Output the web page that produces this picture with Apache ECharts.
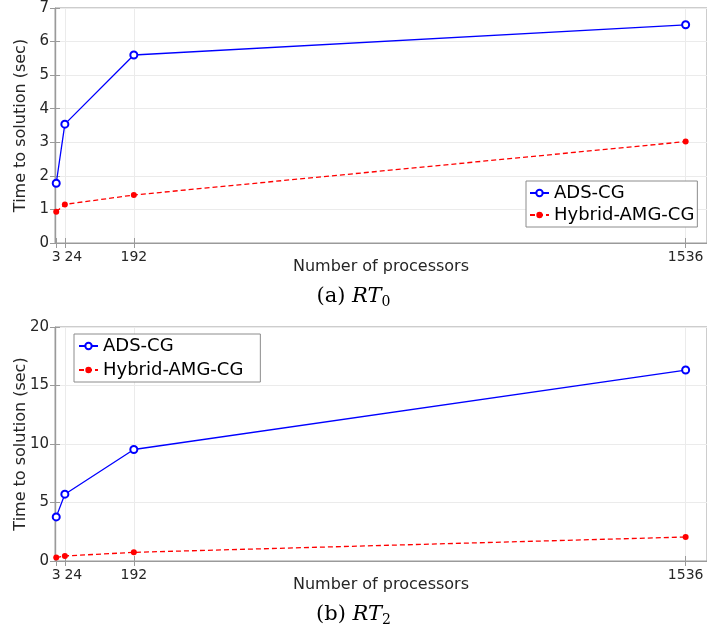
<!DOCTYPE html>
<html>
<head>
<meta charset="utf-8">
<script src="https://cdn.jsdelivr.net/npm/echarts@6/dist/echarts.min.js"></script>
<style>
  html, body { margin: 0; padding: 0; background: #fff; }
  #chart { width: 707px; height: 630px; }
</style>
</head>
<body>
<div id="chart"></div>
<script>
// number of processors (x ticks)
const procs = [3, 24, 192, 1536];
const xTickLabels = ['3', '24', '192', '1536'];

// (a) RT_0
const rt0Ads = [1.78, 3.54, 5.60, 6.50];
const rt0Hybrid = [0.93, 1.15, 1.43, 3.02];

// (b) RT_2
const rt2Ads = [3.77, 5.71, 9.53, 16.32];
const rt2Hybrid = [0.29, 0.43, 0.74, 2.05];

const seriesNames = ['ADS-CG', 'Hybrid-AMG-CG'];

const axisGray = '#9a9a9a';
const gridGray = '#ebebeb';
const textGray = '#262626';
const sans = 'DejaVu Sans';

function pairs(ys) {
    return procs.map(function (p, i) {
        return [p, ys[i]];
    });
}

function xLabel(value) {
    const idx = procs.indexOf(value);
    const txt = idx >= 0 ? xTickLabels[idx] : '';
    // the "24" label sits a bit right of its tick in the original
    if (idx === 1) return '{p|' + txt + '}';
    return txt;
}

function bottomX(gridIndex) {
    return {
        type: 'value',
        gridIndex: gridIndex,
        min: 0,
        max: 1588,
        name: 'Number of processors',
        nameLocation: 'middle',
        nameGap: 16,
        nameMoveOverlap: false,
        nameTextStyle: { fontFamily: sans, fontSize: 16, color: textGray },
        axisLine: { lineStyle: { color: axisGray } },
        axisTick: { inside: true, length: 5, customValues: procs, lineStyle: { color: axisGray } },
        axisLabel: {
            customValues: procs,
            formatter: xLabel,
            margin: 7,
            fontFamily: sans,
            fontSize: 14,
            color: textGray,
            rich: { p: { fontFamily: sans, fontSize: 14, color: textGray, padding: [0, 0, 0, 17] } }
        },
        splitLine: { show: true, lineStyle: { color: gridGray } }
    };
}

function topX(gridIndex) {
    return {
        type: 'value',
        gridIndex: gridIndex,
        position: 'top',
        min: 0,
        max: 1588,
        axisLine: { show: false },
        axisTick: { inside: true, length: 5, customValues: procs, lineStyle: { color: axisGray } },
        axisLabel: { show: false },
        splitLine: { show: false }
    };
}

function leftY(gridIndex, max, interval) {
    return {
        type: 'value',
        gridIndex: gridIndex,
        min: 0,
        max: max,
        interval: interval,
        name: 'Time to solution (sec)',
        nameLocation: 'middle',
        nameGap: 26,
        nameMoveOverlap: false,
        nameTextStyle: { fontFamily: sans, fontSize: 16, color: textGray },
        axisLine: { show: true, lineStyle: { color: axisGray } },
        axisTick: { show: true, inside: true, length: 5, lineStyle: { color: axisGray } },
        axisLabel: { margin: 6, fontFamily: sans, fontSize: 15, color: textGray },
        splitLine: { show: true, lineStyle: { color: gridGray } }
    };
}

function rightY(gridIndex, max, interval) {
    return {
        type: 'value',
        gridIndex: gridIndex,
        position: 'right',
        min: 0,
        max: max,
        interval: interval,
        axisLine: { show: false },
        axisTick: { show: true, inside: true, length: 5, lineStyle: { color: axisGray } },
        axisLabel: { show: false },
        splitLine: { show: false }
    };
}

function adsSeries(xi, yi, ys) {
    return {
        name: seriesNames[0],
        type: 'line',
        xAxisIndex: xi,
        yAxisIndex: yi,
        data: pairs(ys),
        symbol: 'emptyCircle',
        symbolSize: 7,
        lineStyle: { color: '#0000ff', width: 1.3 },
        itemStyle: { color: '#0000ff', borderWidth: 1.4 },
        animation: false
    };
}

function hybridSeries(xi, yi, ys) {
    return {
        name: seriesNames[1],
        type: 'line',
        xAxisIndex: xi,
        yAxisIndex: yi,
        data: pairs(ys),
        symbol: 'circle',
        symbolSize: 6,
        lineStyle: { color: '#ff0000', width: 1.3, type: [5, 3] },
        itemStyle: { color: '#ff0000' },
        animation: false
    };
}

function legendAt(left, top, padding, gap) {
    return {
        orient: 'vertical',
        left: left,
        top: top,
        data: seriesNames,
        itemWidth: 19,
        itemHeight: 8,
        itemGap: gap,
        padding: padding,
        borderColor: '#8c8c8c',
        borderWidth: 1,
        borderRadius: 0,
        backgroundColor: '#fff',
        textStyle: { fontFamily: sans, fontSize: 18, color: '#000', lineHeight: 20 }
    };
}

function caption(letter, sub, y) {
    return {
        type: 'text',
        left: 'center',
        top: y,
        style: {
            text: '{n|(' + letter + ') }{i|RT}{s|' + sub + '}',
            rich: {
                n: { fontFamily: 'DejaVu Serif', fontSize: 21, color: '#000', lineHeight: 26 },
                i: { fontFamily: 'DejaVu Serif', fontStyle: 'italic', fontSize: 21, color: '#000', lineHeight: 26 },
                s: { fontFamily: 'DejaVu Serif', fontSize: 14, color: '#000', lineHeight: 14, verticalAlign: 'bottom' }
            }
        }
    };
}

const chart = echarts.init(document.getElementById('chart'), null, { renderer: 'canvas' });

chart.setOption({
    animation: false,
    backgroundColor: '#fff',
    grid: [
        { left: 55, top: 8, width: 652, height: 235, show: true, borderColor: axisGray, borderWidth: 1, containLabel: false, outerBoundsMode: 'none' },
        { left: 55, top: 327, width: 652, height: 234, show: true, borderColor: axisGray, borderWidth: 1, containLabel: false, outerBoundsMode: 'none' }
    ],
    xAxis: [bottomX(0), topX(0), bottomX(1), topX(1)],
    yAxis: [leftY(0, 7, 1), rightY(0, 7, 1), leftY(1, 20, 5), rightY(1, 20, 5)],
    legend: [
        legendAt(526, 181, [2, 3, 2, 3], 2),
        legendAt(74, 334, [2, 17, 2, 4], 4)
    ],
    graphic: [caption('a', '0', 286), caption('b', '2', 604)],
    series: [
        adsSeries(0, 0, rt0Ads),
        hybridSeries(0, 0, rt0Hybrid),
        adsSeries(2, 2, rt2Ads),
        hybridSeries(2, 2, rt2Hybrid)
    ]
});
</script>
</body>
</html>
